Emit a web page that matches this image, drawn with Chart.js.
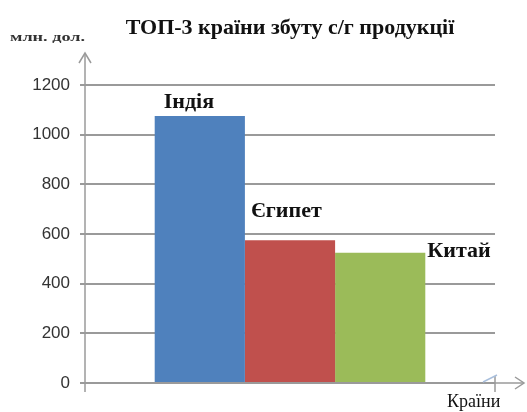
<!DOCTYPE html>
<html>
<head>
<meta charset="utf-8">
<script src="https://cdn.jsdelivr.net/npm/chart.js@4"></script>
<style>
    html, body { margin: 0; padding: 0; background: #fff; }
    #wrap { width: 527px; height: 412px; position: relative; }
</style>
</head>
<body>
<div id="wrap"><canvas id="chart"></canvas></div>
<script>
// countries (each one is a series in a single category, so the bars touch)
const countries = ["Індія", "Єгипет", "Китай"]
const values = [1075, 575, 525]
const barColours = ["#4f81bd", "#c0504d", "#9bbb59"]
const yTicks = [0, 200, 400, 600, 800, 1000, 1200]

const titleText = "ТОП-3 країни збуту с/г продукції"
const yAxisTitle = "млн. дол."
const xAxisTitle = "Країни"

const axisGrey = "#9a9a9a"
const serif = "'Liberation Serif', 'Times New Roman', serif"

// where each country label sits relative to its bar (dx, dy from the bar's top-left / top-right)
const labelOffsets = [
    { anchor: "left", dx: 9, dy: -14 },
    { anchor: "left", dx: 6, dy: -29 },
    { anchor: "right", dx: 2, dy: -1 }
]

const decorations = {
    id: "decorations",
    afterDraw(chart) {
        var ctx = chart.ctx
        var area = chart.chartArea
        var x0 = area.left
        var y0 = chart.scales.y.getPixelForValue(0)

        ctx.save()
        ctx.strokeStyle = axisGrey
        ctx.lineWidth = 1.5

        // y axis with arrow
        ctx.beginPath()
        ctx.moveTo(x0, y0 + 9)
        ctx.lineTo(x0, 53)
        ctx.stroke()
        ctx.beginPath()
        ctx.moveTo(x0 - 6, 63)
        ctx.lineTo(x0, 53)
        ctx.lineTo(x0 + 6, 63)
        ctx.stroke()

        // x axis with arrow
        var xEnd = 524
        ctx.beginPath()
        ctx.moveTo(x0 - 5, y0)
        ctx.lineTo(xEnd, y0)
        ctx.stroke()
        ctx.beginPath()
        ctx.moveTo(xEnd - 9, y0 - 6)
        ctx.lineTo(xEnd, y0)
        ctx.lineTo(xEnd - 9, y0 + 6)
        ctx.stroke()

        // little mark at the end of the plot
        ctx.beginPath()
        ctx.moveTo(area.right, y0 - 7)
        ctx.lineTo(area.right, y0 + 9)
        ctx.stroke()
        ctx.strokeStyle = "#a9bfdc"
        ctx.beginPath()
        ctx.moveTo(area.right - 12, y0 - 1)
        ctx.lineTo(area.right + 2, y0 - 8)
        ctx.stroke()

        // titles
        ctx.fillStyle = "#111"
        ctx.textBaseline = "middle"
        ctx.textAlign = "center"
        ctx.font = "bold 22px " + serif
        ctx.fillText(titleText, 290, 28)

        // the unit label is squashed wide in the original
        ctx.save()
        ctx.textAlign = "left"
        ctx.font = "bold 13px " + serif
        ctx.translate(10, 38)
        ctx.scale(1.4, 1)
        ctx.fillStyle = "#333"
        ctx.fillText(yAxisTitle, 0, 0)
        ctx.restore()

        ctx.textAlign = "left"
        ctx.font = "18px " + serif
        ctx.fillText(xAxisTitle, 447, 402)

        // country labels next to the bars
        ctx.font = "bold 22px " + serif
        for (var i = 0; i < countries.length; i++) {
            var bar = chart.getDatasetMeta(i).data[0]
            var off = labelOffsets[i]
            var bx = off.anchor == "left" ? bar.x - bar.width / 2 + off.dx : bar.x + bar.width / 2 + off.dx
            ctx.fillText(countries[i], bx, bar.y + off.dy)
        }
        ctx.restore()
    }
}

var datasets = []
for (var i = 0; i < countries.length; i++) {
    datasets.push({
        label: countries[i],
        data: [values[i]],
        backgroundColor: barColours[i],
        borderWidth: 0,
        categoryPercentage: 0.66,
        barPercentage: 1
    })
}

new Chart(document.getElementById("chart"), {
    type: "bar",
    data: { labels: [""], datasets: datasets },
    plugins: [decorations],
    options: {
        responsive: true,
        maintainAspectRatio: false,
        animation: false,
        layout: { padding: { left: 0, right: 32, top: 85, bottom: 0 } },
        plugins: {
            legend: { display: false },
            tooltip: { enabled: false }
        },
        scales: {
            x: {
                grid: { display: false },
                border: { display: false },
                ticks: { display: false },
                afterFit(scale) { scale.height = 29 }
            },
            y: {
                min: 0,
                max: 1200,
                afterBuildTicks(scale) { scale.ticks = yTicks.map(v => ({ value: v })) },
                afterFit(scale) { scale.width = 85 },
                border: { display: false },
                grid: { color: axisGrey, lineWidth: 2, tickLength: 5, drawTicks: true },
                ticks: {
                    padding: 10,
                    color: "#333",
                    callback: v => String(v),
                    font: { family: "'Liberation Sans', Arial, sans-serif", size: 17 }
                }
            }
        }
    }
})
</script>
</body>
</html>
